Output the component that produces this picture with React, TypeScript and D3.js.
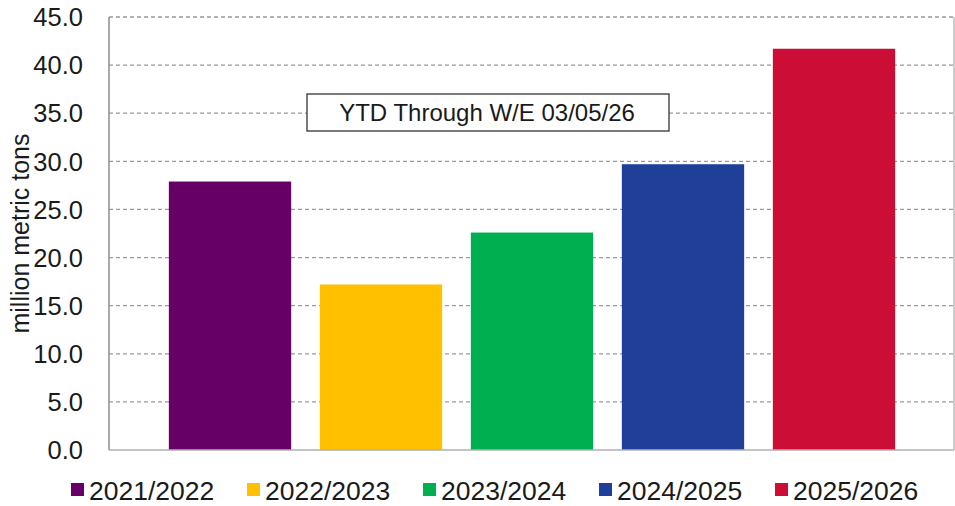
import * as d3 from "d3";
import { useEffect, useRef } from "react";

// marketing years and YTD totals (million metric tons)
const years: string[] = ["2021/2022", "2022/2023", "2023/2024", "2024/2025", "2025/2026"];
const totals: number[] = [27.9, 17.2, 22.6, 29.7, 41.7];
const colors: string[] = ["#660066", "#FFC000", "#00B050", "#1F3F99", "#CC0E36"];
const yTicks: number[] = [0, 5, 10, 15, 20, 25, 30, 35, 40, 45];

const W = 955;
const H = 506;
const FONT = "'Liberation Sans', Arial, sans-serif";

const drawChart = (element: SVGSVGElement): void => {
  const svg = d3.select(element);
  svg.selectAll("*").remove();

  const plot = { left: 109, right: 954, top: 17, bottom: 450 };

  const y = d3.scaleLinear().domain([0, 45]).range([plot.bottom, plot.top]);
  const x = d3
    .scaleBand<string>()
    .domain(years)
    .range([154.5, 909.5])
    .paddingInner(0.19)
    .paddingOuter(0.095);

  // gridlines (dashed)
  svg
    .append("g")
    .selectAll("line")
    .data(yTicks.filter((t) => t > 0))
    .enter()
    .append("line")
    .attr("x1", plot.left)
    .attr("x2", plot.right)
    .attr("y1", (d) => y(d))
    .attr("y2", (d) => y(d))
    .attr("stroke", "#9a9a9a")
    .attr("stroke-width", 1.3)
    .attr("stroke-dasharray", "4,3");

  // right border
  svg
    .append("line")
    .attr("x1", plot.right)
    .attr("x2", plot.right)
    .attr("y1", plot.top)
    .attr("y2", plot.bottom)
    .attr("stroke", "#b0b0b0")
    .attr("stroke-width", 1.3);

  // bars
  svg
    .append("g")
    .selectAll("rect")
    .data(years)
    .enter()
    .append("rect")
    .attr("x", (d) => x(d) as number)
    .attr("width", x.bandwidth())
    .attr("y", (_d, i) => y(totals[i]))
    .attr("height", (_d, i) => plot.bottom - y(totals[i]))
    .attr("fill", (_d, i) => colors[i]);

  // axes lines
  svg
    .append("line")
    .attr("x1", plot.left)
    .attr("x2", plot.left)
    .attr("y1", plot.top)
    .attr("y2", plot.bottom)
    .attr("stroke", "#8c8c8c")
    .attr("stroke-width", 1.5);
  svg
    .append("line")
    .attr("x1", plot.left)
    .attr("x2", plot.right)
    .attr("y1", plot.bottom)
    .attr("y2", plot.bottom)
    .attr("stroke", "#b0b0b0")
    .attr("stroke-width", 1.5);

  // y tick labels
  svg
    .append("g")
    .selectAll("text")
    .data(yTicks)
    .enter()
    .append("text")
    .attr("x", 83)
    .attr("y", (d) => y(d))
    .attr("dy", "0.36em")
    .attr("text-anchor", "end")
    .attr("font-family", FONT)
    .attr("font-size", 25.5)
    .attr("fill", "#1a1a1a")
    .text((d) => d3.format(".1f")(d));

  // y title
  svg
    .append("text")
    .attr("transform", `translate(29, ${(plot.top + plot.bottom) / 2 + 0}) rotate(-90)`)
    .attr("text-anchor", "middle")
    .attr("font-family", FONT)
    .attr("font-size", 25)
    .attr("fill", "#1a1a1a")
    .text("million metric tons");

  // annotation box
  const box = svg.append("g");
  box
    .append("rect")
    .attr("x", 307)
    .attr("y", 94)
    .attr("width", 362)
    .attr("height", 37)
    .attr("fill", "#fff")
    .attr("stroke", "#333")
    .attr("stroke-width", 1.3);
  box
    .append("text")
    .attr("x", 487)
    .attr("y", 112.5)
    .attr("dy", "0.36em")
    .attr("text-anchor", "middle")
    .attr("font-family", FONT)
    .attr("font-size", 24)
    .attr("fill", "#1a1a1a")
    .text("YTD Through W/E 03/05/26");

  // legend
  const lx = d3.scalePoint<string>().domain(years).range([71, 775]);
  const legend = svg
    .append("g")
    .selectAll("g")
    .data(years)
    .enter()
    .append("g")
    .attr("transform", (d) => `translate(${lx(d)}, 490)`);
  legend
    .append("rect")
    .attr("x", 0)
    .attr("y", -7)
    .attr("width", 13)
    .attr("height", 13)
    .attr("fill", (_d, i) => colors[i]);
  legend
    .append("text")
    .attr("x", 18)
    .attr("y", 0)
    .attr("dy", "0.36em")
    .attr("font-family", FONT)
    .attr("font-size", 26.5)
    .attr("fill", "#1a1a1a")
    .text((d) => d);
};

export default function App() {
  const ref = useRef<SVGSVGElement>(null);
  useEffect(() => {
    if (ref.current) drawChart(ref.current);
  }, []);
  return (
    <div style={{ position: "absolute", left: 0, top: 0, background: "#fff" }}>
      <svg ref={ref} width={W} height={H} style={{ display: "block" }} />
    </div>
  );
}
